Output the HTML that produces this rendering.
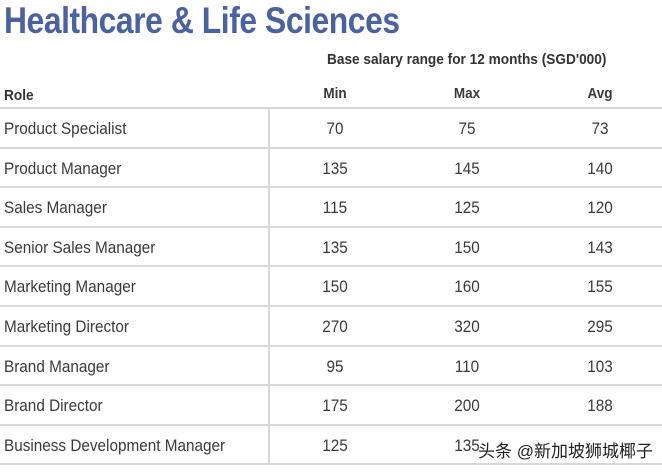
<!DOCTYPE html>
<html><head><meta charset="utf-8"><style>
body{margin:0;width:662px;height:472px;background:#fff;overflow:hidden;position:relative;font-family:"Liberation Sans",sans-serif;color:#333}
.t{position:absolute;left:4px;top:0px;font-size:37px;font-weight:bold;color:#4a62a2;letter-spacing:-0.5px;white-space:nowrap;transform:scaleX(0.86);transform-origin:0 0}
.a{position:absolute;white-space:nowrap}
.h{font-weight:bold;font-size:15px;color:#333;transform:scaleX(0.91);transform-origin:0 0}
.line{position:absolute;left:0;width:662px;height:2px;background:#d8d8d8}
.v{position:absolute;left:268px;top:108px;width:2px;height:356px;background:#d8d8d8}
.r{font-size:17px;color:#3a3a3a;transform:scaleX(0.9);transform-origin:0 0}
.n{font-size:17px;color:#3a3a3a;width:80px;text-align:center;transform:scaleX(0.9)}
.wm{position:absolute;left:478px;top:437px;font-size:17px;color:#222;font-family:"Liberation Sans","Noto Sans CJK SC",sans-serif;text-shadow:0 0 2px #fff}
</style></head><body>
<div class="t">Healthcare &amp; Life Sciences</div>
<div class="a h" style="left:327px;top:51px">Base salary range for 12 months (SGD'000)</div>
<div class="a h" style="left:4px;top:87px">Role</div>
<div class="a n" style="left:295px;top:85px;font-size:15px;font-weight:bold">Min</div>
<div class="a n" style="left:427px;top:85px;font-size:15px;font-weight:bold">Max</div>
<div class="a n" style="left:560px;top:85px;font-size:15px;font-weight:bold">Avg</div>
<div class="v"></div>
<div id="rows"></div>
<script>
var d=[["Product Specialist",70,75,73],["Product Manager",135,145,140],["Sales Manager",115,125,120],["Senior Sales Manager",135,150,143],["Marketing Manager",150,160,155],["Marketing Director",270,320,295],["Brand Manager",95,110,103],["Brand Director",175,200,188],["Business Development Manager",125,135,""]];
var h="";var y0=107,rh=39.6;
for(var i=0;i<=9;i++)h+='<div class="line" style="top:'+(y0+i*rh).toFixed(0)+'px"></div>';
d.forEach(function(r,i){var y=(y0+i*rh+12).toFixed(0);
h+='<div class="a r" style="left:4px;top:'+y+'px">'+r[0]+'</div>';
h+='<div class="a n" style="left:295px;top:'+y+'px">'+r[1]+'</div>';
h+='<div class="a n" style="left:427px;top:'+y+'px">'+r[2]+'</div>';
h+='<div class="a n" style="left:560px;top:'+y+'px">'+r[3]+'</div>';});
document.getElementById("rows").innerHTML=h;
</script>
<div class="wm">头条 @新加坡狮城椰子</div>
</body></html>
